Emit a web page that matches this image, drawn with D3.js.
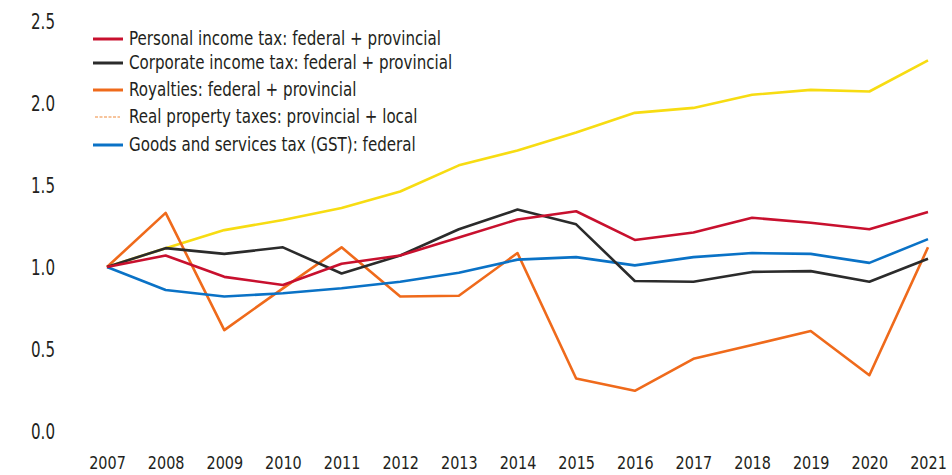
<!DOCTYPE html>
<html>
<head>
<meta charset="utf-8">
<script src="https://cdn.jsdelivr.net/npm/d3@7"></script>
<style>
  html, body { margin: 0; padding: 0; background: #fff; }
  svg text { font-family: "DejaVu Sans", sans-serif; fill: #231f20; }
</style>
</head>
<body>
<svg id="chart" width="952" height="475"></svg>
<script>
const years = [2007, 2008, 2009, 2010, 2011, 2012, 2013, 2014, 2015, 2016, 2017, 2018, 2019, 2020, 2021];
const personalIncome = [1.00, 1.07, 0.94, 0.89, 1.02, 1.07, 1.18, 1.29, 1.34, 1.165, 1.21, 1.30, 1.27, 1.23, 1.335];
const corporateIncome = [1.00, 1.115, 1.08, 1.12, 0.96, 1.07, 1.23, 1.35, 1.26, 0.915, 0.91, 0.97, 0.975, 0.91, 1.05];
const royalties = [1.00, 1.33, 0.615, 0.87, 1.12, 0.82, 0.825, 1.085, 0.32, 0.245, 0.44, 0.525, 0.61, 0.34, 1.12];
const realProperty = [1.00, 1.115, 1.225, 1.287, 1.36, 1.46, 1.62, 1.71, 1.82, 1.94, 1.97, 2.05, 2.08, 2.07, 2.26];
const gst = [1.00, 0.86, 0.82, 0.84, 0.87, 0.91, 0.965, 1.045, 1.06, 1.01, 1.06, 1.085, 1.08, 1.025, 1.17];
const yTicks = [0, 0.5, 1.0, 1.5, 2.0, 2.5];

const seriesNames = [
  "Personal income tax: federal + provincial",
  "Corporate income tax: federal + provincial",
  "Royalties: federal + provincial",
  "Real property taxes: provincial + local",
  "Goods and services tax (GST): federal"
];
const seriesColors = ["#c8102e", "#2b2b2b", "#ef6a1b", "#f7dc12", "#0a72c6"];
const seriesValues = [personalIncome, corporateIncome, royalties, realProperty, gst];

const svg = d3.select("#chart");
const x = d3.scalePoint().domain(years).range([107, 928]);
const y = d3.scaleLinear().domain([0, 2.5]).range([431, 21]);

const yAxis = d3.axisLeft(y).tickValues(yTicks).tickFormat(d3.format(".1f")).tickSize(0).tickPadding(0);
const gy = svg.append("g").attr("transform", "translate(55,0)").call(yAxis);
gy.select(".domain").remove();
gy.selectAll("text").style("font-size", "21px").attr("fill", "#231f20")
  .attr("dy", "0.36em").attr("transform", "scale(0.72,1)");

const xAxis = d3.axisBottom(x).tickSize(0).tickPadding(0);
const gx = svg.append("g").attr("transform", "translate(0,456)").call(xAxis);
gx.select(".domain").remove();
gx.selectAll("text").style("font-size", "18px").attr("fill", "#231f20")
  .attr("transform", "scale(0.8,1)");

const drawOrder = [3, 2, 4, 1, 0];
const line = d3.line().x((d, i) => x(years[i])).y(d => y(d));
drawOrder.forEach(k => {
  svg.append("path")
    .datum(seriesValues[k])
    .attr("d", line)
    .attr("fill", "none")
    .attr("stroke", seriesColors[k])
    .attr("stroke-width", 2.6)
    .attr("stroke-linejoin", "round");
});

const legendY = [39, 63, 90, 117, 145];
seriesNames.forEach((name, k) => {
  const g = svg.append("g").attr("transform", `translate(0,${legendY[k]})`);
  if (k === 3) {
    g.append("line").attr("x1", 95).attr("x2", 120).attr("y1", 0).attr("y2", 0)
      .attr("stroke", "#ef8a3a").attr("stroke-width", 1.2).attr("stroke-dasharray", "3,1.5");
  } else {
    g.append("line").attr("x1", 93).attr("x2", 123).attr("y1", 0).attr("y2", 0)
      .attr("stroke", seriesColors[k]).attr("stroke-width", 3);
  }
  g.append("text").attr("transform", "translate(129,0) scale(0.775,1)")
    .attr("x", 0).attr("y", 0).attr("dy", "0.3em")
    .style("font-size", "19.5px").text(name);
});
</script>
</body>
</html>
